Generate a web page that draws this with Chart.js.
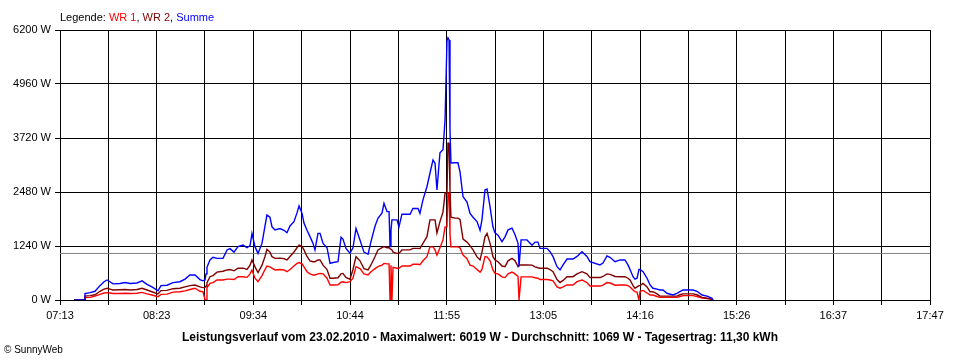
<!DOCTYPE html>
<html><head><meta charset="utf-8">
<script src="https://cdn.jsdelivr.net/npm/chart.js@4/dist/chart.umd.min.js"></script>
<style>
html,body{margin:0;padding:0;background:#fff;}
#wrap{position:relative;width:960px;height:360px;overflow:hidden;}
#c{position:absolute;left:0;top:0;}
#legend{position:absolute;left:60px;top:11px;font:11px "Liberation Sans",Arial,sans-serif;white-space:nowrap;color:#000;}
#title{position:absolute;left:0;width:960px;top:330px;text-align:center;font:bold 12px "Liberation Sans",Arial,sans-serif;color:#000;white-space:nowrap;}
#copy{position:absolute;left:4px;top:344px;font:10px "Liberation Sans",Arial,sans-serif;color:#000;}
</style></head>
<body>
<div id="wrap">
<canvas id="c" width="960" height="360"></canvas>
<div id="legend">Legende: <span style="color:#ff0000">WR 1</span>, <span style="color:#800000">WR 2</span>, <span style="color:#0000ff">Summe</span></div>
<div id="title">Leistungsverlauf vom 23.02.2010 - Maximalwert: 6019 W - Durchschnitt: 1069 W - Tagesertrag: 11,30 kWh</div>
<div id="copy">© SunnyWeb</div>
</div>
<script>
// time in minutes since midnight
const zeit = [443.2,450.5,451.2,454.9,458.5,462.1,465.1,467.3,469.4,471.6,476.7,480.4,484.0,489.1,492.8,496.4,500.0,504.4,506.6,511.0,515.3,520.4,524.1,527.7,531.4,535.0,537.2,538.7,539.4,540.1,542.3,544.5,547.4,551.8,554.7,556.9,559.8,562.7,566.4,569.3,571.5,572.9,575.1,577.3,580.2,582.4,583.8,586.0,587.5,589.7,593.3,596.2,598.4,600.6,603.5,605.7,607.2,609.4,610.8,613.0,615.2,617.4,618.8,621.0,622.5,624.7,627.6,629.8,632.0,635.6,637.8,639.2,641.4,644.3,646.5,648.7,651.6,654.5,657.5,659.6,662.6,664.7,667.7,669.1,671.3,672.8,673.5,674.2,674.9,675.7,678.6,680.0,682.2,688.1,690.2,693.9,695.3,697.5,700.4,702.6,704.8,706.3,707.7,709.9,712.1,713.6,715.0,715.7,716.5,717.2,717.9,720.9,723.0,724.5,726.7,729.6,731.8,734.0,736.9,739.1,740.5,742.7,744.2,746.4,748.5,750.0,752.2,755.1,757.3,759.5,762.4,764.6,766.8,767.5,769.0,773.3,777.0,779.2,781.3,782.8,787.9,790.1,792.3,795.2,797.4,799.6,802.5,806.8,809.8,813.4,817.0,819.2,826.5,828.7,831.6,833.8,837.5,841.1,844.7,846.9,848.4,850.6,852.0,853.5,854.9,855.7,857.9,860.8,863.0,865.1,868.1,870.2,872.4,875.3,879.7,882.6,884.8,887.0,894.3,897.2,900.9,904.5,906.7,908.1,908.9];
const summe = [0,0,150,170,200,330,420,460,420,370,380,400,380,390,440,360,300,210,330,340,400,420,480,575,575,470,440,460,600,750,920,980,955,960,1150,1180,1100,1225,1260,1200,1250,1530,1225,1070,1300,1700,1950,1900,1680,1610,1640,1600,1545,1700,1800,2000,2160,1990,1765,1600,1455,1300,1150,1530,1530,1300,1200,840,860,880,1440,1400,1185,1075,1200,1645,1380,1100,1050,1340,1700,1875,2000,2220,2030,2030,1225,1600,1840,1840,1840,1680,1970,1970,2100,2100,1990,2300,2600,2910,3215,3140,2525,3380,3450,4130,5950,6019,5970,3900,3145,3150,3150,2940,2370,2250,1990,1900,1800,1600,1840,2525,2550,2140,1680,1540,1490,1340,1450,1610,1650,1500,1300,765,1380,1380,1260,1330,1330,1185,1185,1110,995,765,690,805,940,940,1000,1110,1000,880,805,850,1010,980,880,920,920,805,700,535,480,500,700,700,650,500,345,270,250,230,230,155,115,150,190,230,230,200,115,90,60,40,0];
const wr2 = [0,0,90,100,120,200,250,270,250,230,235,240,230,240,270,230,190,140,215,220,260,270,300,330,345,300,285,290,320,400,535,560,640,660,690,700,670,730,730,700,800,920,760,630,800,1000,1165,1100,995,955,960,950,920,1000,1100,1200,1260,1225,1150,1000,900,880,880,920,920,800,700,500,500,510,600,610,520,475,700,995,900,720,690,805,1000,1150,1200,1225,1200,1200,1180,1180,1150,1100,1070,1070,1150,1150,1185,1185,1180,1300,1455,1840,1840,1840,1540,1800,2020,2450,2450,3600,3600,2500,1900,1880,1880,1850,1400,1330,1250,1150,990,920,1100,1450,1530,1300,995,920,880,780,765,900,955,900,765,800,805,805,800,760,740,730,730,700,650,470,400,450,535,535,600,650,600,515,515,540,600,590,540,535,535,500,460,330,270,300,330,330,380,300,190,190,140,90,90,90,90,90,120,140,140,120,60,40,30,15,0];
const wr1 = [0,0,55,60,90,130,160,170,160,150,150,155,150,155,175,140,115,75,130,135,180,190,210,240,270,200,190,0,0,280,380,400,460,460,480,480,470,535,535,520,600,690,500,420,560,700,780,760,730,690,700,690,650,700,780,840,860,830,760,650,600,575,575,600,610,600,500,345,345,350,410,420,400,420,500,765,720,600,575,650,720,765,800,840,830,830,0,800,0,750,730,730,780,780,820,820,810,900,995,1220,1220,1150,1030,1200,1380,1680,1680,2450,2450,1500,1220,1220,1220,1200,1030,950,800,780,700,640,700,995,990,900,690,610,600,530,515,600,640,600,540,0,530,530,530,510,500,470,470,460,440,300,270,300,345,345,420,460,400,320,320,340,400,390,340,345,345,330,300,230,190,180,0,200,220,160,115,115,80,60,60,60,60,60,80,100,100,80,45,35,25,10,0];
const durchschnitt = 1069;
const tStart = 433, tEnd = 1067; // 07:13 .. 17:47
const xTickLabels = ['07:13','08:23','09:34','10:44','11:55','13:05','14:16','15:26','16:37','17:47'];
const yTickValues = [0,1240,2480,3720,4960,6200];

const FONT = '"Liberation Sans", Arial, sans-serif';
const pts = arr => zeit.map((t,i)=>({x:t,y:arr[i]}));
const xTickValues = [];
for (let i=0;i<=18;i++) xTickValues.push(tStart + i*(tEnd-tStart)/18);

new Chart(document.getElementById('c'), {
  type:'line',
  data:{datasets:[
    {label:'Summe', data:pts(summe), borderColor:'#0000ff', borderWidth:1.4, order:1},
    {label:'WR 2', data:pts(wr2), borderColor:'#800000', borderWidth:1.4, order:2},
    {label:'WR 1', data:pts(wr1), borderColor:'#ff0000', borderWidth:1.4, order:3},
    {label:'Durchschnitt', data:[{x:tStart,y:durchschnitt},{x:tEnd,y:durchschnitt}], borderColor:'#808080', borderWidth:1, order:4}
  ]},
  options:{
    responsive:false, animation:false, devicePixelRatio:1,
    layout:{padding:{top:30,right:30,left:0,bottom:0}},
    plugins:{legend:{display:false}, tooltip:{enabled:false}, title:{display:false}},
    elements:{point:{radius:0}, line:{tension:0, fill:false}},
    scales:{
      x:{type:'linear', min:tStart, max:tEnd,
        afterBuildTicks:s=>{s.ticks = xTickValues.map(v=>({value:v}));},
        afterFit:s=>{s.height=60;},
        ticks:{autoSkip:false, maxRotation:0, minRotation:0, padding:4, color:'#000', font:{family:FONT,size:11},
          callback:(v,i)=> (i%2===0 ? xTickLabels[i/2] : '')},
        grid:{color:'#000', lineWidth:1, tickLength:5, drawTicks:true},
        border:{color:'#000', width:1}
      },
      y:{min:0, max:6200,
        afterBuildTicks:s=>{s.ticks = yTickValues.map(v=>({value:v}));},
        afterFit:s=>{s.width=60;},
        ticks:{padding:4, color:'#000', font:{family:FONT,size:11}, callback:v=>v+' W'},
        grid:{color:'#000', lineWidth:1, tickLength:5, drawTicks:true},
        border:{color:'#000', width:1}
      }
    }
  }
});
</script>
</body></html>
